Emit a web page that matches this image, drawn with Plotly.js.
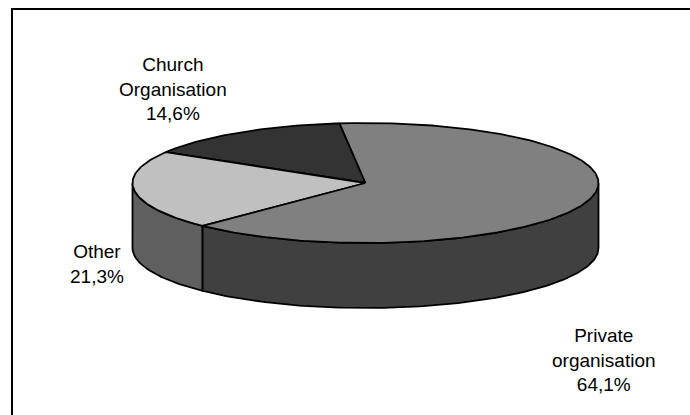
<!DOCTYPE html>
<html>
<head>
<meta charset="utf-8">
<script src="https://cdn.plot.ly/plotly-3.0.1.min.js"></script>
<style>html,body{margin:0;padding:0;background:#fff;}#chart{width:690px;height:415px;}</style>
</head>
<body>
<div id="chart"></div>
<script>
// ---- data ----
const categories = ['Church Organisation', 'Other', 'Private organisation'];
const labelLines = [['Church', 'Organisation'], ['Other'], ['Private', 'organisation']];
const values = [14.6, 21.3, 64.1];

// ---- style ----
const topColors = ['#333333', '#C0C0C0', '#808080'];
const sideColors = ['#222222', '#5F5F5F', '#404040'];
const labelPos = [[173, 89], [97, 264], [604, 360]];
const geo = {cx: 365.5, cy: 183, rx: 233, ry: 60, depth: 65, start: 96.4};

const total = values.reduce((a, b) => a + b, 0);
const bounds = [geo.start];
values.forEach((v, i) => bounds.push(bounds[i] + v / total * 360));

function pt(deg, dy) {
  const t = deg * Math.PI / 180;
  return [geo.cx + geo.rx * Math.cos(t), geo.cy - geo.ry * Math.sin(t) + (dy || 0)];
}
function arc(a1, a2, dy) {
  const n = Math.max(2, Math.ceil(Math.abs(a2 - a1) / 1));
  const out = [];
  for (let k = 0; k <= n; k++) out.push(pt(a1 + (a2 - a1) * k / n, dy));
  return out;
}

const traces = [];
// side walls (front-facing part of each slice)
values.forEach((v, i) => {
  const a1 = bounds[i], a2 = bounds[i + 1];
  for (let k = -1; k <= 2; k++) {
    const lo = Math.max(a1, 180 + 360 * k), hi = Math.min(a2, 360 + 360 * k);
    if (hi > lo) {
      const top = arc(lo, hi, 0);
      const bot = arc(hi, lo, geo.depth);
      const pts = top.concat(bot);
      pts.push(top[0]);
      traces.push({
        type: 'scatter', mode: 'lines', fill: 'toself',
        x: pts.map(p => p[0]), y: pts.map(p => p[1]),
        fillcolor: sideColors[i], line: {color: '#000', width: 1.8},
        hoverinfo: 'skip', showlegend: false
      });
    }
  }
});
// top faces
values.forEach((v, i) => {
  const pts = [[geo.cx, geo.cy]].concat(arc(bounds[i], bounds[i + 1], 0));
  pts.push([geo.cx, geo.cy]);
  traces.push({
    type: 'scatter', mode: 'lines', fill: 'toself', name: categories[i],
    x: pts.map(p => p[0]), y: pts.map(p => p[1]),
    fillcolor: topColors[i], line: {color: '#000', width: 1.8},
    hoverinfo: 'skip', showlegend: false
  });
});

const annotations = values.map((v, i) => ({
  x: labelPos[i][0], y: labelPos[i][1], xref: 'x', yref: 'y',
  text: labelLines[i].join('<br>') + '<br>' + v.toFixed(1).replace('.', ',') + '%',
  showarrow: false, align: 'center', xanchor: 'center', yanchor: 'middle',
  font: {family: 'Liberation Sans, Arial, sans-serif', size: 19, color: '#000'}
}));

const layout = {
  width: 690, height: 415,
  margin: {l: 0, r: 0, t: 0, b: 0},
  paper_bgcolor: '#fff', plot_bgcolor: '#fff',
  xaxis: {range: [0, 690], visible: false, fixedrange: true},
  yaxis: {range: [415, 0], visible: false, fixedrange: true},
  shapes: [{type: 'rect', xref: 'x', yref: 'y', x0: 12, y0: 9, x1: 720, y1: 440,
            line: {color: '#000', width: 2}, fillcolor: 'rgba(0,0,0,0)', layer: 'above'}],
  annotations: annotations,
  showlegend: false
};

Plotly.newPlot('chart', traces, layout, {displayModeBar: false, staticPlot: true});
</script>
</body>
</html>
